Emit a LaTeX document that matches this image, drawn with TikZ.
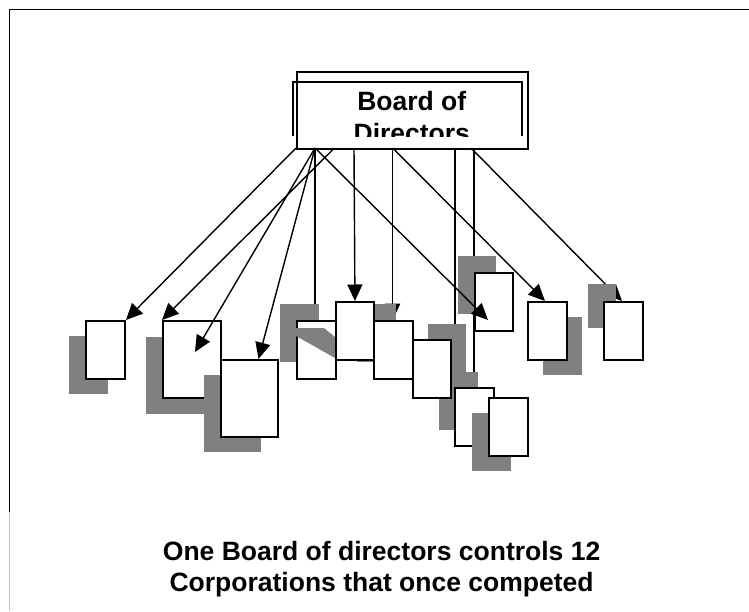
\documentclass[tikz,border=0pt]{standalone}
\usepackage{fontspec}
\setmainfont{Liberation Sans}
\usetikzlibrary{arrows.meta}
\begin{document}
\begin{tikzpicture}[x=1pt,y=-1pt,
  corp/.style={draw=black, fill=white, line width=1.9pt, inner sep=0pt, anchor=north west, minimum width=39pt, minimum height=58pt},
  bigcorp/.style={corp, minimum width=58pt, minimum height=77pt},
  shad/.style={fill=gray, draw=none, inner sep=0pt, anchor=north west, minimum width=39pt, minimum height=58pt},
  bigshad/.style={shad, minimum width=58pt, minimum height=77pt},
  conn/.style={line width=1.4pt},
  arr/.style={conn, -{Triangle[length=16.5pt,width=15pt]}},
  frame/.style={line width=1.9pt},
  txt/.style={font=\fontsize{26.5}{31.5}\selectfont\bfseries, inner sep=0pt, anchor=base}
]
\useasboundingbox (0,0) rectangle (749,611);

% page frame
\coordinate (ftl) at (9.5,9.5);
\coordinate (ftr) at (749,9.5);
\coordinate (fbl) at (9.5,512);
\coordinate (fbb) at (9.5,611);
\draw[frame] (ftr) -- (ftl) -- (fbl);
\draw[gray!45, line width=0.6pt] (fbl) -- (fbb);

% board
\node[draw=black, fill=white, line width=1.8pt, inner sep=0pt, anchor=north west,
      minimum width=231pt, minimum height=77pt] (board) at (296,71) {};
\draw[line width=1.8pt] (293.3,136) -- (293.3,82) -- (521.7,82) -- (521.7,136);
\begin{scope}
  \clip (290,83) rectangle (520.5,136.5);
  \node[txt] (bt1) at (411.8,110.7) {Board of};
  \node[txt] (bt2) at (411.8,142) {Directors};
\end{scope}

% start points on the board
\coordinate (s296) at (296,148);
\coordinate (s315) at (315,148);
\coordinate (s334) at (334.5,148);
\coordinate (s354) at (354,148);
\coordinate (s393) at (392.7,148);
\coordinate (s455) at (455,148);
\coordinate (s471) at (471,148);
\coordinate (s474) at (474,148);

% free ends
\coordinate (eB1) at (315,304);
\coordinate (eB3) at (392.7,320);
\coordinate (eB4) at (455,324);
\coordinate (eB5) at (474,372);
\coordinate (eB9) at (622,301);
\coordinate (eA2) at (195,352);
\coordinate (eA3) at (258.5,359);
\coordinate (eB7) at (488,320);
\coordinate (eB8) at (545,301);

% connectors lying beneath the boxes
\draw[conn] (s315) -- (eB1);
\draw[arr] (s393) -- (eB3);
\draw[conn] (s455) -- (eB4);
\draw[conn] (s474) -- (eB5);
\draw[arr] (s471) -- (eB9);

% corporations with shadows
\node[shad] (sA1) at (69,336) {};
\node[corp] (A1) at (85,320) {};
\node[bigshad] (sA2) at (146,337) {};
\node[bigcorp] (A2) at (162,320) {};
\node[bigshad, minimum width=57pt] (sA3) at (204,375) {};
\node[bigcorp, minimum width=57pt] (A3) at (220,359) {};

\node[shad] (sB1) at (280,304) {};
\node[corp] (B1) at (296,320) {};
\fill[gray] (296,328) -- (324,328) -- (335,337) -- (335,358) -- (296,336) -- cycle;
\node[shad] (sB3) at (357,304) {};
\node[corp, minimum width=38pt] (B2) at (335,301) {};
\node[corp] (B3) at (373,320) {};
\node[shad] (sB5) at (439,372) {};
\node[shad, minimum width=38pt] (sB4) at (428,324) {};
\node[corp, minimum width=38pt] (B4) at (412,339) {};
\node[corp] (B5) at (454,387) {};
\node[shad] (sB6) at (472,413) {};
\node[corp] (B6) at (488,397) {};
\node[shad, minimum width=38pt] (sB7) at (458,256) {};
\node[corp, minimum width=38pt] (B7) at (474,272) {};
\node[shad] (sB8) at (543,317) {};
\node[corp] (B8) at (527,301) {};
\node[shad, minimum width=28pt, minimum height=44pt] (sB9) at (588,284) {};
\node[corp] (B9) at (603,301) {};

% connectors on top
\draw[arr] (s296) -- (A1.north east);
\draw[arr] (s334) -- (A2.north west);
\draw[arr] (s315) -- (eA2);
\draw[arr] (s315) -- (eA3);
\draw[arr] (s354) -- (B2.north);
\draw[arr] (s315) -- (eB7);
\draw[arr] (s393) -- (eB8);

% caption
\node[txt] (cap1) at (381.6,560) {One Board of directors controls 12};
\node[txt] (cap2) at (381.6,591.3) {Corporations that once competed};
\end{tikzpicture}
\end{document}
